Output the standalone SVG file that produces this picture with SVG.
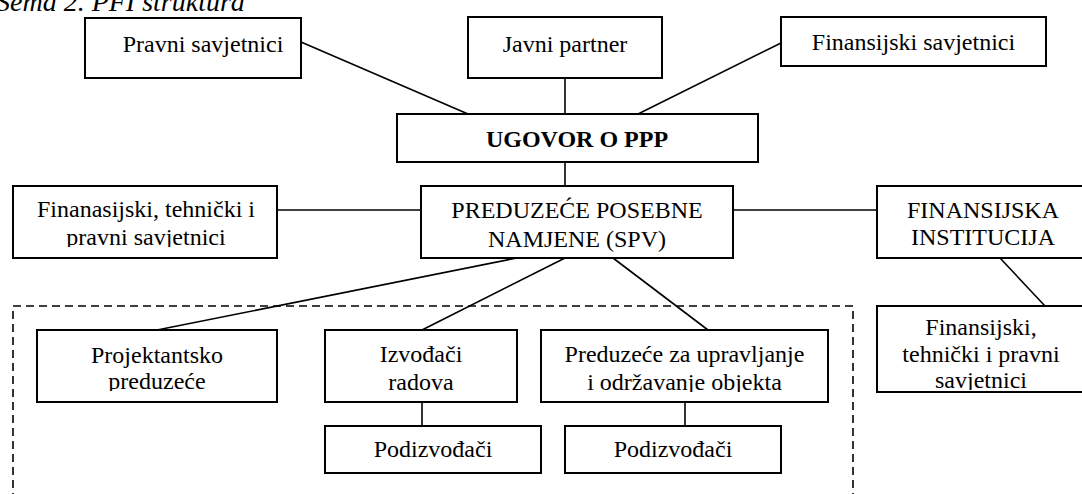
<svg xmlns="http://www.w3.org/2000/svg" width="1082" height="494" viewBox="0 0 1082 494">
<style>
.box{fill:#fff;stroke:#000;stroke-width:2}
.ln{stroke:#000;stroke-width:1.6;fill:none}
.t{font-family:"Liberation Serif","Times New Roman",serif;font-size:24px;fill:#000;text-anchor:middle}
.b{font-weight:bold}
.title{font-family:"Liberation Serif","Times New Roman",serif;font-size:28px;font-style:italic;fill:#000}
</style>
<defs>
<clipPath id="c1"><rect x="0" y="180" width="300" height="67"/></clipPath>
<clipPath id="c2"><rect x="0" y="320" width="300" height="71"/></clipPath>
<clipPath id="c3"><rect x="520" y="320" width="320" height="72"/></clipPath>
<clipPath id="c4"><rect x="870" y="300" width="212" height="90"/></clipPath>
</defs>
<text class="title" x="-4" y="11">Šema 2. PFI struktura</text>
<rect x="13" y="306" width="840" height="200" fill="none" stroke="#000" stroke-width="1.6" stroke-dasharray="8,5"/>
<g id="connectors">
<line class="ln" x1="301" y1="42" x2="468" y2="114"/>
<line class="ln" x1="565" y1="78" x2="565" y2="114"/>
<line class="ln" x1="781" y1="43" x2="638" y2="114"/>
<line class="ln" x1="565" y1="162" x2="565" y2="186"/>
<line class="ln" x1="277" y1="210" x2="421" y2="210"/>
<line class="ln" x1="733" y1="210" x2="877" y2="210"/>
<line class="ln" x1="1000" y1="258" x2="1045" y2="306"/>
<line class="ln" x1="517" y1="258" x2="157" y2="330"/>
<line class="ln" x1="565" y1="258" x2="422" y2="330"/>
<line class="ln" x1="613" y1="258" x2="708" y2="330"/>
<line class="ln" x1="422" y1="402" x2="422" y2="426"/>
<line class="ln" x1="685" y1="402" x2="685" y2="426"/>
</g>
<g id="pravni"><rect class="box" x="85" y="18" width="216" height="60"/><text class="t" x="203" y="52">Pravni savjetnici</text></g>
<g id="javni"><rect class="box" x="468" y="17" width="194" height="61"/><text class="t" x="565" y="52">Javni partner</text></g>
<g id="finsav"><rect class="box" x="781" y="17" width="265" height="49"/><text class="t" x="913.5" y="50">Finansijski savjetnici</text></g>
<g id="ugovor"><rect class="box" x="397" y="114" width="361" height="48"/><text class="t b" x="577" y="147">UGOVOR O PPP</text></g>
<g id="spv"><rect class="box" x="421" y="186" width="312" height="72"/><text class="t" x="577" y="218">PREDUZEĆE POSEBNE</text><text class="t" x="577" y="247">NAMJENE (SPV)</text></g>
<g id="finteh1"><rect class="box" x="13" y="186" width="264" height="72"/><text class="t" x="146" y="217">Finanasijski, tehnički i</text><text class="t" x="146" y="245" clip-path="url(#c1)">pravni savjetnici</text></g>
<g id="fininst"><rect class="box" x="877" y="186" width="214" height="72"/><text class="t" x="983" y="218">FINANSIJSKA</text><text class="t" x="983" y="245">INSTITUCIJA</text></g>
<g id="finteh2"><rect class="box" x="877" y="306" width="214" height="86"/><g clip-path="url(#c4)"><text class="t" x="981" y="335">Finansijski,</text><text class="t" x="981" y="362">tehnički i pravni</text><text class="t" x="981" y="388">savjetnici</text></g></g>
<g id="projekt"><rect class="box" x="37" y="330" width="240" height="72"/><text class="t" x="157" y="363">Projektantsko</text><text class="t" x="157" y="389" clip-path="url(#c2)">preduzeće</text></g>
<g id="izvodjaci"><rect class="box" x="325" y="330" width="192" height="72"/><text class="t" x="421" y="362">Izvođači</text><text class="t" x="421" y="390">radova</text></g>
<g id="upravljanje"><rect class="box" x="541" y="330" width="287" height="72"/><text class="t" x="684.5" y="362">Preduzeće za upravljanje</text><text class="t" x="684.5" y="390" clip-path="url(#c3)">i održavanje objekta</text></g>
<g id="podizv1"><rect class="box" x="325" y="426" width="216" height="47"/><text class="t" x="433" y="457">Podizvođači</text></g>
<g id="podizv2"><rect class="box" x="565" y="426" width="216" height="47"/><text class="t" x="673" y="457">Podizvođači</text></g>
</svg>
